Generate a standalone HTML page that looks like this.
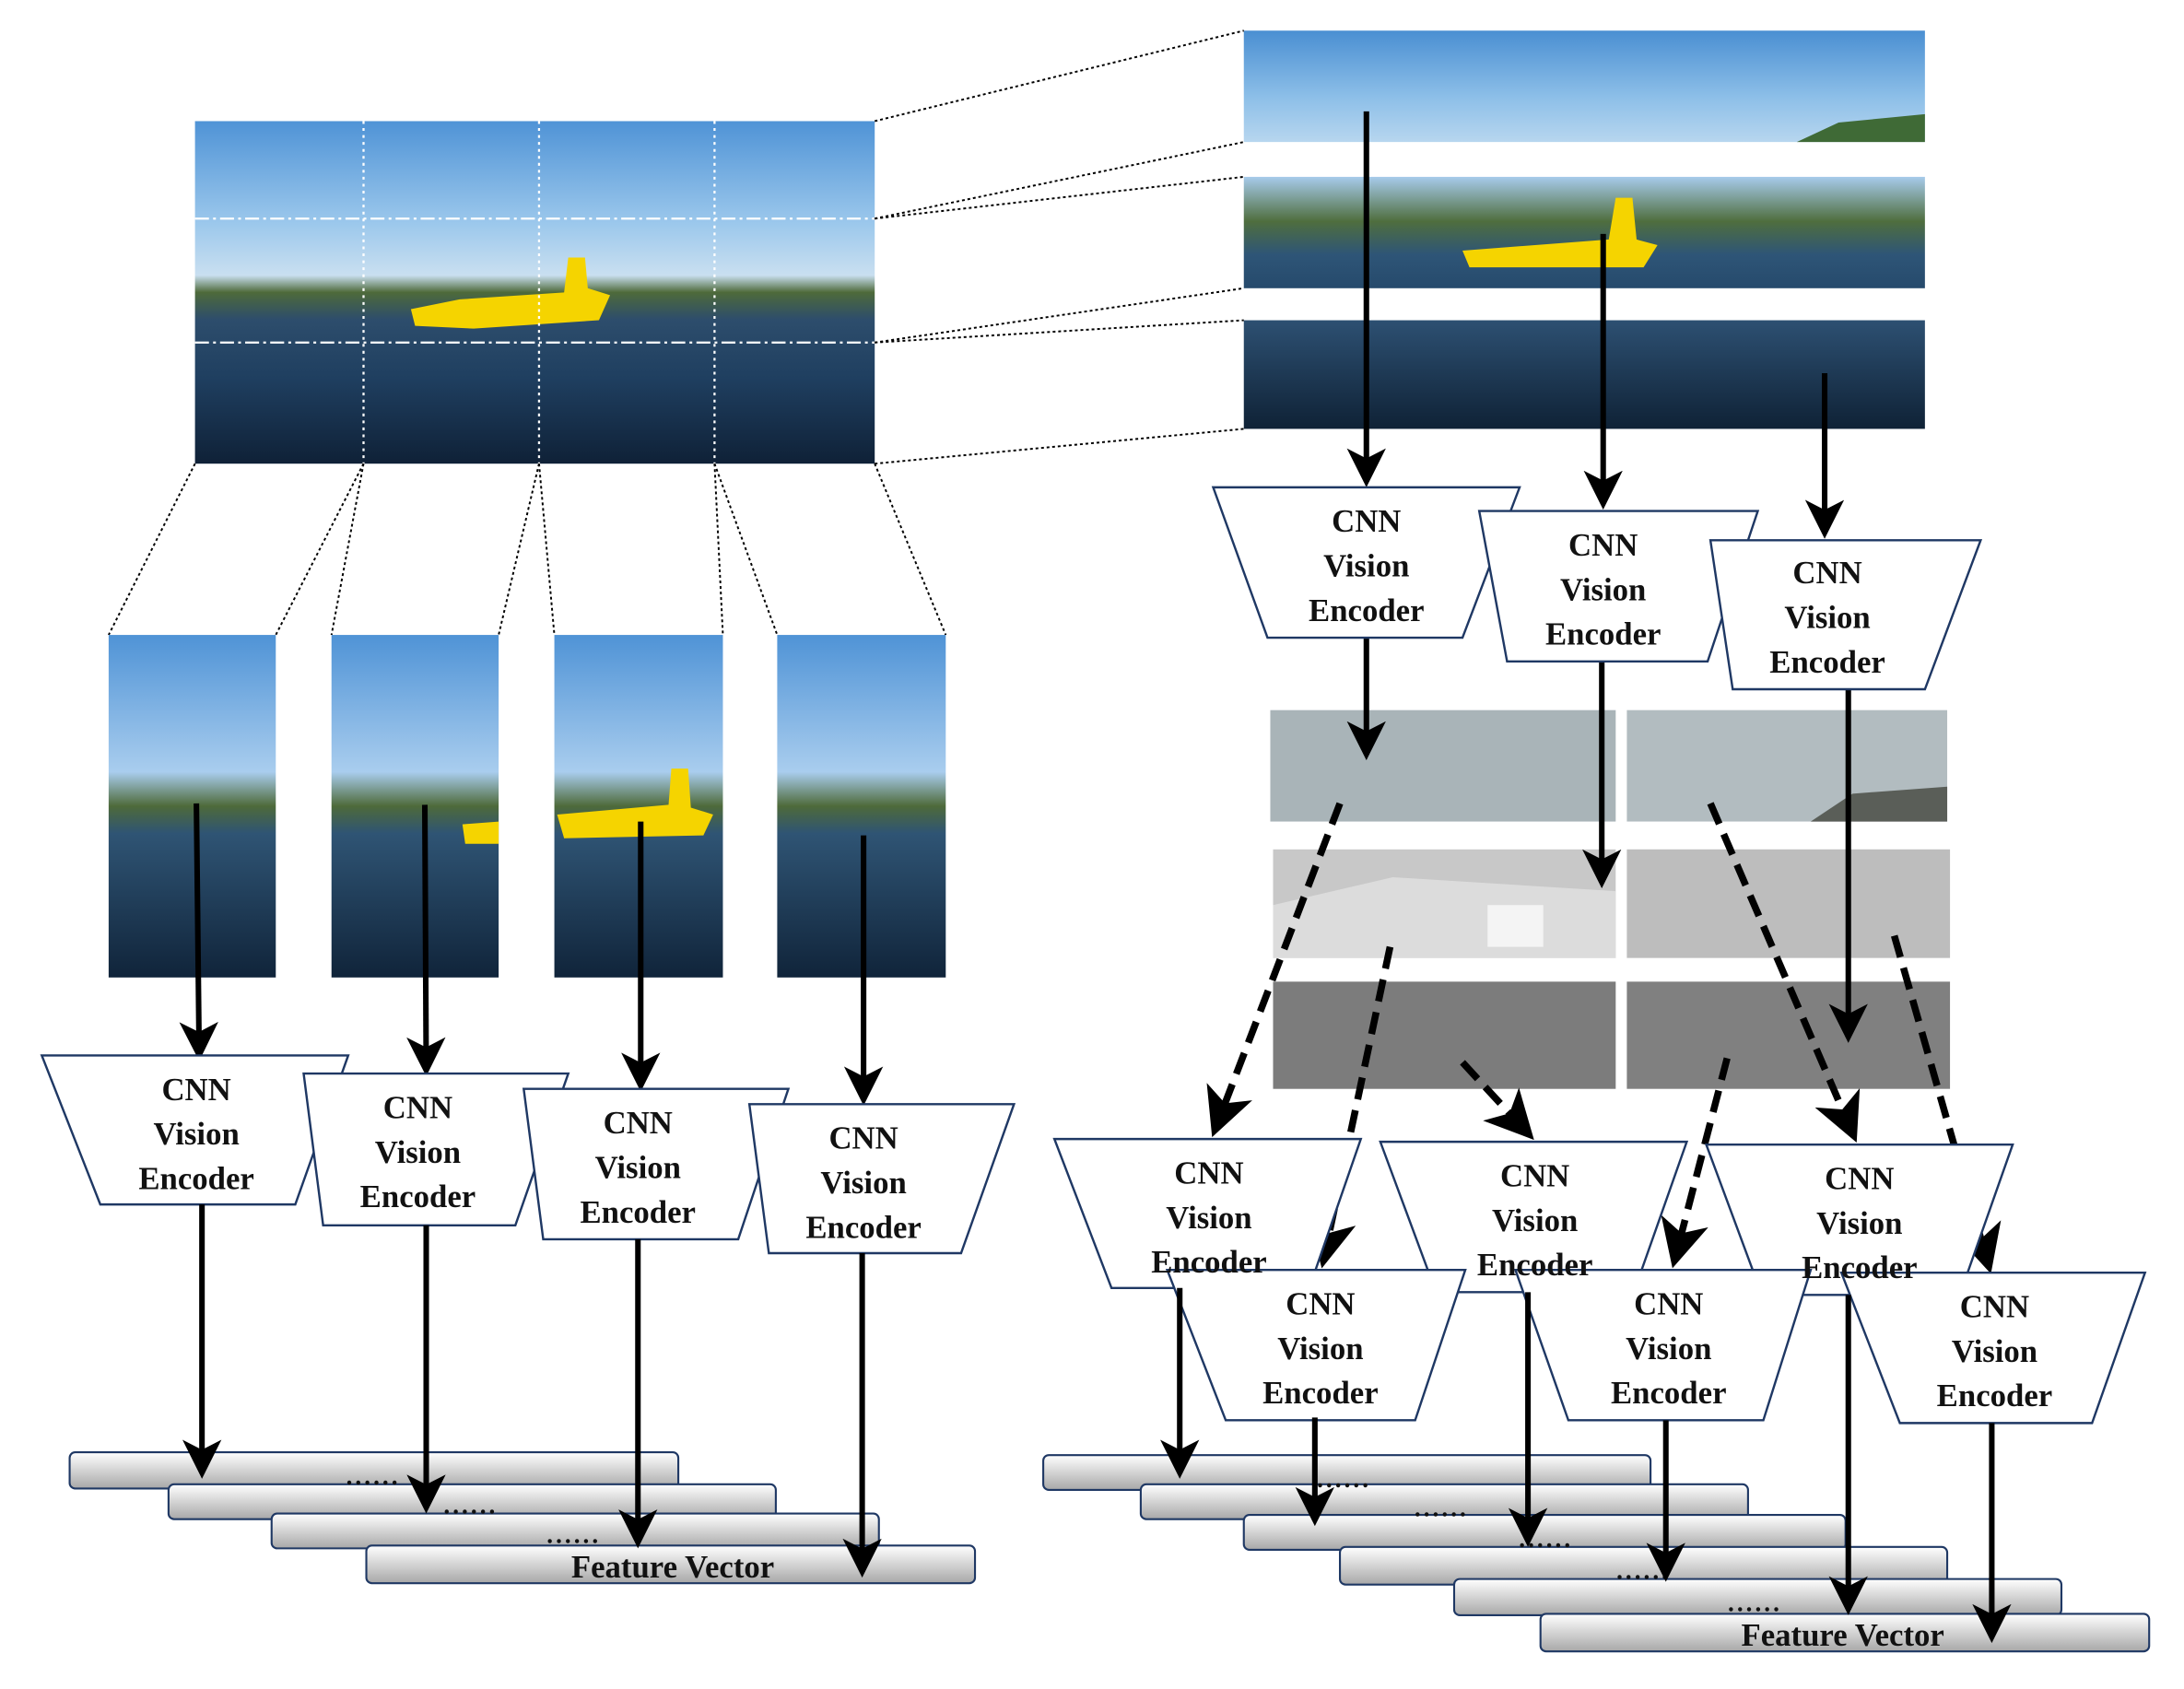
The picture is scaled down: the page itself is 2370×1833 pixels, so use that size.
<!DOCTYPE html>
<html><head><meta charset="utf-8"><style>
html,body{margin:0;padding:0;background:#fff}
svg{display:block}
text{font-family:"Liberation Serif",serif;font-weight:bold;fill:#111}
</style></head><body>
<svg width="2370" height="1833" viewBox="0 0 1568 1213" preserveAspectRatio="none" xmlns="http://www.w3.org/2000/svg">
<defs>
<linearGradient id="photo" x1="0" y1="0" x2="0" y2="1">
<stop offset="0" stop-color="#4f93d6"/><stop offset="0.3" stop-color="#9cc8ec"/>
<stop offset="0.45" stop-color="#c9dff0"/><stop offset="0.5" stop-color="#4e6a3a"/>
<stop offset="0.58" stop-color="#2d4d6c"/><stop offset="0.75" stop-color="#1f3f60"/>
<stop offset="1" stop-color="#0f2137"/></linearGradient>
<linearGradient id="sky" x1="0" y1="0" x2="0" y2="1">
<stop offset="0" stop-color="#4a8fd2"/><stop offset="0.6" stop-color="#8dbfe8"/><stop offset="1" stop-color="#b7d6ef"/></linearGradient>
<linearGradient id="mid" x1="0" y1="0" x2="0" y2="1">
<stop offset="0" stop-color="#a7cbeb"/><stop offset="0.4" stop-color="#4f6e3e"/><stop offset="0.7" stop-color="#2e5577"/><stop offset="1" stop-color="#264a6c"/></linearGradient>
<linearGradient id="sea" x1="0" y1="0" x2="0" y2="1">
<stop offset="0" stop-color="#2d5072"/><stop offset="1" stop-color="#0f2236"/></linearGradient>
<linearGradient id="tile" x1="0" y1="0" x2="0" y2="1">
<stop offset="0" stop-color="#4f93d6"/><stop offset="0.4" stop-color="#a9cdee"/>
<stop offset="0.5" stop-color="#4e6a3a"/><stop offset="0.58" stop-color="#2f5474"/>
<stop offset="1" stop-color="#10243a"/></linearGradient>
<linearGradient id="bar" x1="0" y1="0" x2="0" y2="1">
<stop offset="0" stop-color="#ffffff"/><stop offset="1" stop-color="#a8a8a8"/></linearGradient>
<marker id="ah" markerWidth="7" markerHeight="7" refX="6" refY="3.5" orient="auto" markerUnits="strokeWidth"><path d="M0,0 L7,3.5 L0,7 L1.8,3.5 z" fill="#000"/></marker>
</defs>

<rect x="140" y="87" width="488" height="246" fill="url(#photo)"/>
<path d="M295,222 L330,215 L405,210 L408,185 L420,185 L422,207 L438,212 L430,230 L340,236 L298,234z" fill="#f5d400"/>
<g stroke="#fff" stroke-width="1.5" stroke-dasharray="10,3,2,3" fill="none"><line x1="140" y1="157" x2="628" y2="157"/><line x1="140" y1="246" x2="628" y2="246"/></g>
<g stroke="#fff" stroke-width="1.5" stroke-dasharray="2,3" fill="none"><line x1="261" y1="87" x2="261" y2="333"/><line x1="387" y1="87" x2="387" y2="333"/><line x1="513" y1="87" x2="513" y2="333"/></g>

<rect x="893" y="22" width="489" height="80" fill="url(#sky)"/>
<path d="M1290,102 L1320,88 L1382,82 L1382,102z" fill="#3f6a36"/>
<rect x="893" y="127" width="489" height="80" fill="url(#mid)"/>
<path d="M1050,180 L1155,172 L1160,142 L1172,142 L1175,172 L1190,176 L1180,192 L1055,192z" fill="#f5d400"/>
<rect x="893" y="230" width="489" height="78" fill="url(#sea)"/>

<g stroke="#000" stroke-width="1.3" stroke-dasharray="2,2" fill="none">
<line x1="628" y1="87" x2="893" y2="22"/><line x1="628" y1="157" x2="893" y2="102"/>
<line x1="628" y1="157" x2="893" y2="127"/><line x1="628" y1="246" x2="893" y2="207"/>
<line x1="628" y1="246" x2="893" y2="230"/><line x1="628" y1="333" x2="893" y2="308"/>
<line x1="140" y1="333" x2="78" y2="456"/><line x1="261" y1="333" x2="198" y2="456"/>
<line x1="261" y1="333" x2="238" y2="456"/><line x1="387" y1="333" x2="358" y2="456"/>
<line x1="387" y1="333" x2="398" y2="456"/><line x1="513" y1="333" x2="519" y2="456"/>
<line x1="513" y1="333" x2="558" y2="456"/><line x1="628" y1="333" x2="679" y2="456"/>
</g>

<rect x="78" y="456" width="120" height="246" fill="url(#tile)"/>
<rect x="238" y="456" width="120" height="246" fill="url(#tile)"/>
<rect x="398" y="456" width="121" height="246" fill="url(#tile)"/>
<path d="M400,585 L480,578 L482,552 L494,552 L496,580 L512,585 L505,600 L405,602z" fill="#f5d400"/>
<path d="M332,592 L358,590 L358,606 L334,606z" fill="#f5d400"/>
<rect x="558" y="456" width="121" height="246" fill="url(#tile)"/>

<rect x="912" y="510" width="248" height="80" fill="#a9b4b8"/>
<rect x="1168" y="510" width="230" height="80" fill="#b2bcc0"/>
<path d="M1300,590 L1330,570 L1398,565 L1398,590z" fill="#5a5e58"/>
<rect x="914" y="610" width="246" height="78" fill="#c8c8c8"/>
<rect x="1168" y="610" width="232" height="78" fill="#bdbdbd"/>
<path d="M914,650 L1000,630 L1160,640 L1160,688 L914,688z" fill="#dcdcdc"/>
<rect x="1068" y="650" width="40" height="30" fill="#f4f4f4"/>
<rect x="914" y="705" width="246" height="77" fill="#7c7c7c"/>
<rect x="1168" y="705" width="232" height="77" fill="#808080"/>

<g stroke="#000" stroke-width="4" fill="none" marker-end="url(#ah)">
<line x1="141" y1="577" x2="143" y2="758"/><line x1="305" y1="578" x2="306" y2="769"/>
<line x1="460" y1="590" x2="460" y2="780"/><line x1="620" y1="600" x2="620" y2="790"/>
<line x1="981" y1="80" x2="981" y2="346"/><line x1="1151" y1="168" x2="1151" y2="362"/>
<line x1="1310" y1="268" x2="1310" y2="383"/>
<line x1="981" y1="458" x2="981" y2="542"/><line x1="1150" y1="475" x2="1150" y2="634"/>
<line x1="1327" y1="495" x2="1327" y2="745"/>
</g>

<g fill="#fff" stroke="#1f3864" stroke-width="1.6">
<path d="M30,758 L250,758 L212,865 L72,865z"/>
<path d="M218,771 L408,771 L370,880 L232,880z"/>
<path d="M376,782 L566,782 L530,890 L390,890z"/>
<path d="M538,793 L728,793 L690,900 L552,900z"/>
<path d="M871,350 L1091,350 L1050,458 L910,458z"/>
<path d="M1062,367 L1262,367 L1226,475 L1082,475z"/>
<path d="M1228,388 L1422,388 L1382,495 L1244,495z"/>
</g>
<g font-size="23" text-anchor="middle">
<text x="141" y="790">CNN</text><text x="141" y="822">Vision</text><text x="141" y="854">Encoder</text>
<text x="300" y="803">CNN</text><text x="300" y="835">Vision</text><text x="300" y="867">Encoder</text>
<text x="458" y="814">CNN</text><text x="458" y="846">Vision</text><text x="458" y="878">Encoder</text>
<text x="620" y="825">CNN</text><text x="620" y="857">Vision</text><text x="620" y="889">Encoder</text>
<text x="981" y="382">CNN</text><text x="981" y="414">Vision</text><text x="981" y="446">Encoder</text>
<text x="1151" y="399">CNN</text><text x="1151" y="431">Vision</text><text x="1151" y="463">Encoder</text>
<text x="1312" y="419">CNN</text><text x="1312" y="451">Vision</text><text x="1312" y="483">Encoder</text>
</g>

<g stroke="#1f3864" stroke-width="1.4">
<rect x="50" y="1043" width="437" height="26" rx="4" fill="url(#bar)"/>
<rect x="121" y="1066" width="436" height="25" rx="4" fill="url(#bar)"/>
<rect x="195" y="1087" width="436" height="25" rx="4" fill="url(#bar)"/>
<rect x="263" y="1110" width="437" height="27" rx="4" fill="url(#bar)"/>
<rect x="749" y="1045" width="436" height="25" rx="4" fill="url(#bar)"/>
<rect x="819" y="1066" width="436" height="25" rx="4" fill="url(#bar)"/>
<rect x="893" y="1088" width="432" height="25" rx="4" fill="url(#bar)"/>
<rect x="962" y="1111" width="436" height="27" rx="4" fill="url(#bar)"/>
<rect x="1044" y="1134" width="436" height="26" rx="4" fill="url(#bar)"/>
<rect x="1106" y="1159" width="437" height="27" rx="4" fill="url(#bar)"/>
</g>
<g font-size="18" text-anchor="middle" letter-spacing="2">
<text x="268" y="1066">......</text><text x="338" y="1087">......</text><text x="412" y="1108">......</text>
<text x="965" y="1068">......</text><text x="1035" y="1089">......</text><text x="1110" y="1111">......</text>
<text x="1180" y="1134">......</text><text x="1260" y="1157">......</text>
</g>
<text x="483" y="1133" font-size="23" text-anchor="middle">Feature Vector</text>
<text x="1323" y="1182" font-size="23" text-anchor="middle">Feature Vector</text>

<g stroke="#000" stroke-width="5" stroke-dasharray="16,8" fill="none" marker-end="url(#ah)">
<line x1="962" y1="577" x2="872" y2="812"/>
<line x1="998" y1="680" x2="950" y2="906"/>
<line x1="1050" y1="763" x2="1098" y2="815"/>
<line x1="1240" y1="760" x2="1202" y2="906"/>
<line x1="1228" y1="577" x2="1331" y2="816"/>
<line x1="1360" y1="672" x2="1428" y2="910"/>
</g>

<g fill="#fff" stroke="#1f3864" stroke-width="1.6">
<path d="M757,818 L977,818 L940,925 L798,925z"/>
<path d="M991,820 L1211,820 L1173,928 L1031,928z"/>
<path d="M1225,822 L1445,822 L1407,930 L1265,930z"/>
<path d="M838,912 L1052,912 L1016,1020 L880,1020z"/>
<path d="M1088,912 L1300,912 L1266,1020 L1126,1020z"/>
<path d="M1322,914 L1540,914 L1502,1022 L1364,1022z"/>
</g>
<g font-size="23" text-anchor="middle">
<text x="868" y="850">CNN</text><text x="868" y="882">Vision</text><text x="868" y="914">Encoder</text>
<text x="1102" y="852">CNN</text><text x="1102" y="884">Vision</text><text x="1102" y="916">Encoder</text>
<text x="1335" y="854">CNN</text><text x="1335" y="886">Vision</text><text x="1335" y="918">Encoder</text>
<text x="948" y="944">CNN</text><text x="948" y="976">Vision</text><text x="948" y="1008">Encoder</text>
<text x="1198" y="944">CNN</text><text x="1198" y="976">Vision</text><text x="1198" y="1008">Encoder</text>
<text x="1432" y="946">CNN</text><text x="1432" y="978">Vision</text><text x="1432" y="1010">Encoder</text>
</g>

<g stroke="#000" stroke-width="4" fill="none" marker-end="url(#ah)">
<line x1="145" y1="865" x2="145" y2="1058"/><line x1="306" y1="880" x2="306" y2="1083"/>
<line x1="458" y1="890" x2="458" y2="1108"/><line x1="619" y1="900" x2="619" y2="1129"/>
<line x1="847" y1="925" x2="847" y2="1058"/><line x1="944" y1="1018" x2="944" y2="1092"/>
<line x1="1097" y1="928" x2="1097" y2="1107"/><line x1="1196" y1="1020" x2="1196" y2="1132"/>
<line x1="1327" y1="930" x2="1327" y2="1156"/><line x1="1430" y1="1022" x2="1430" y2="1176"/>
</g>
</svg>
</body></html>
